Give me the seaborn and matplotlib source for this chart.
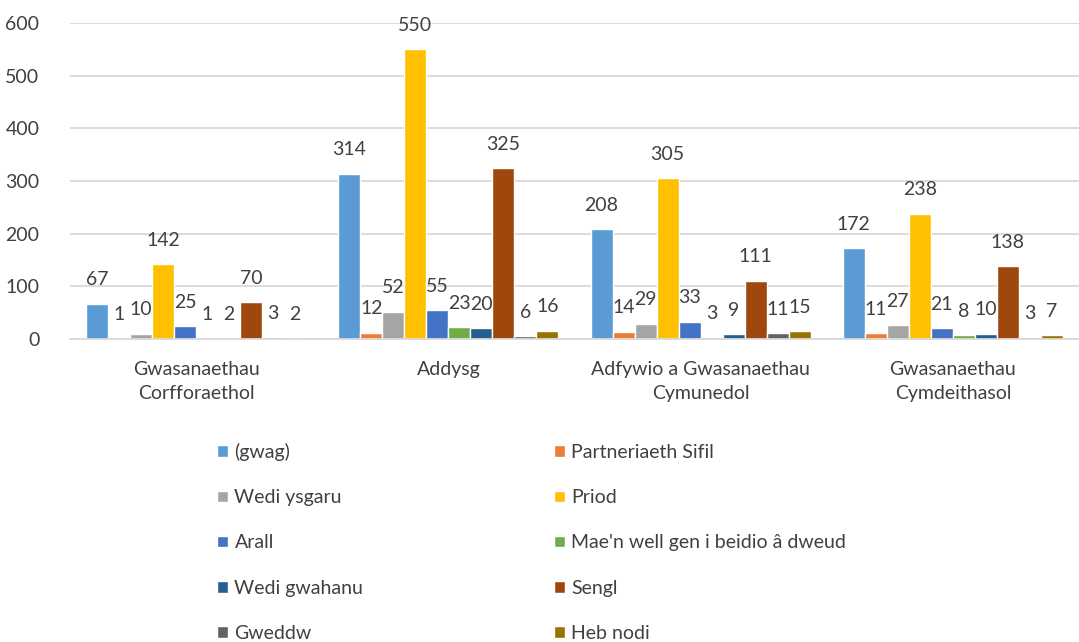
import pandas as pd
import matplotlib
matplotlib.use("Agg")
from matplotlib import pyplot as plt
import seaborn as sns

categories = ["Gwasanaethau\nCorfforaethol", "Addysg",
              "Adfywio a Gwasanaethau\nCymunedol", "Gwasanaethau\nCymdeithasol"]
series = ["(gwag)", "Partneriaeth Sifil", "Wedi ysgaru", "Priod", "Arall",
          "Mae'n well gen i beidio â dweud", "Wedi gwahanu", "Sengl", "Gweddw", "Heb nodi"]
gwag = [67, 314, 208, 172]
partneriaeth = [1, 12, 14, 11]
ysgaru = [10, 52, 29, 27]
priod = [142, 550, 305, 238]
arall = [25, 55, 33, 21]
well_gen = [1, 23, 3, 8]
gwahanu = [2, 20, 9, 10]
sengl = [70, 325, 111, 138]
gweddw = [3, 6, 11, 3]
heb_nodi = [2, 16, 15, 7]
colors = ["#5b9bd5", "#ed7d31", "#a5a5a5", "#ffc000", "#4472c4",
          "#70ad47", "#255e91", "#9e480e", "#636363", "#997300"]

values = [gwag, partneriaeth, ysgaru, priod, arall, well_gen, gwahanu, sengl, gweddw, heb_nodi]
rows = []
for s, vals in zip(series, values):
    for c, v in zip(categories, vals):
        rows.append({"cat": c, "series": s, "value": v})
df = pd.DataFrame(rows)

sns.set_style("white")
plt.rcParams['font.family'] = ['Lato', 'DejaVu Sans']
txt = "#404040"
fs = 14

fig = plt.figure(figsize=(10.79, 6.42), dpi=100)
ax = fig.add_axes([70 / 1079, 1 - 339 / 642, 1009 / 1079, 316 / 642])
sns.barplot(ax=ax, data=df, x="cat", y="value", hue="series", palette=colors,
            saturation=1, width=0.873, order=categories, hue_order=series, legend=True)

for cont in ax.containers:
    ax.bar_label(cont, padding=11, fontsize=fs, color=txt)

ax.set_ylim(0, 600)
ax.set_yticks(range(0, 601, 100))
ax.set_xlim(-0.5, 3.5)
ax.grid(axis="y", color="#d9d9d9", linewidth=1.3)
ax.set_axisbelow(True)
for sp in ["top", "right", "left"]:
    ax.spines[sp].set_visible(False)
ax.spines["bottom"].set_color("#d9d9d9")
ax.spines["bottom"].set_linewidth(1.3)
ax.set_xlabel("")
ax.set_ylabel("")
ax.tick_params(axis="both", length=0, labelsize=fs, labelcolor=txt)
ax.tick_params(axis="y", pad=22)
ax.tick_params(axis="x", pad=16)
for lab in ax.get_xticklabels():
    lab.set_linespacing(1.5)

# legend: two columns, row-major order
handles, labels = ax.get_legend_handles_labels()
ax.get_legend().remove()
order = [0, 2, 4, 6, 8, 1, 3, 5, 7, 9]
leg = fig.legend([handles[i] for i in order], [labels[i] for i in order],
                 ncol=2, loc="upper left", bbox_to_anchor=(217 / 1079, 1 - 443 / 642),
                 frameon=False, fontsize=fs, handlelength=0.55, handleheight=0.55,
                 handletextpad=0.35, columnspacing=9.8, labelspacing=1.45,
                 borderaxespad=0, borderpad=0)
for t in leg.get_texts():
    t.set_color(txt)

fig.savefig("out.png", dpi=100)
